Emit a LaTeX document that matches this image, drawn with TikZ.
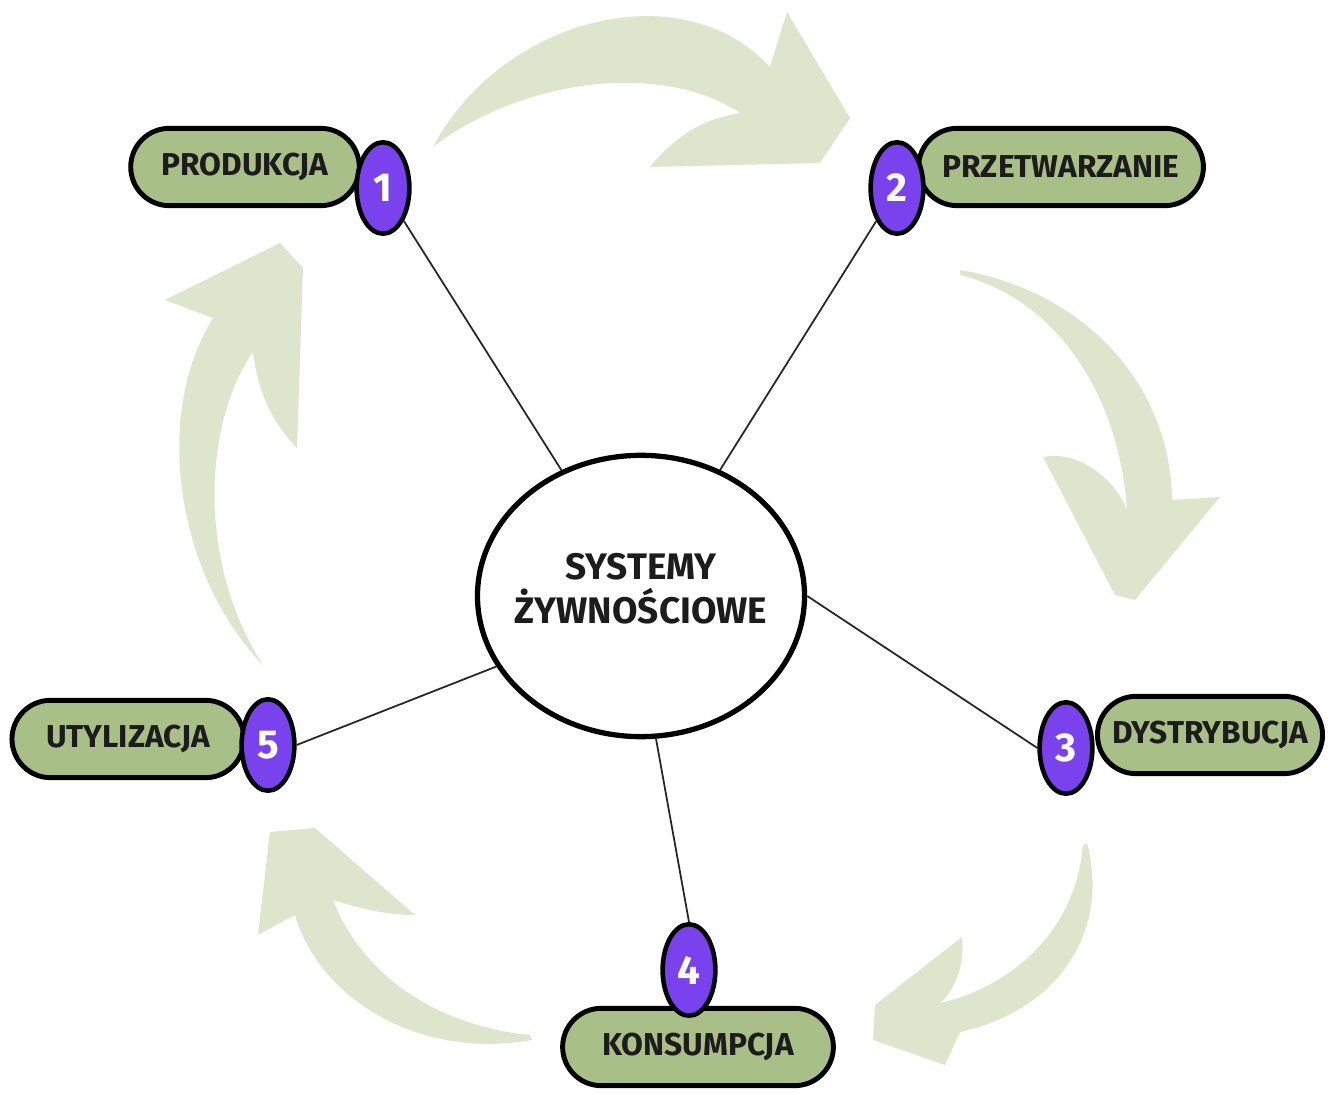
\documentclass[tikz,border=0pt]{standalone}
\usepackage{fontspec}
\setmainfont{Fira Sans}
\usepackage{xcolor}
\usepackage{tikz}
\usetikzlibrary{shapes.geometric,positioning}

\definecolor{zielen}{RGB}{168,192,136}
\definecolor{jasnazielen}{RGB}{221,229,205}
\definecolor{fiolet}{RGB}{122,66,236}
\definecolor{tekst}{RGB}{28,28,28}

\begin{document}
\begin{tikzpicture}[
	x=0.01cm, y=-0.01cm,
	font=\fontsize{9}{11}\selectfont\bfseries,
	etap/.style={rectangle, rounded corners=11pt, draw=black, fill=zielen, line width=1.4pt, minimum height=22pt, inner sep=0pt, text=tekst, align=center},
	nr/.style={ellipse, draw=black, fill=fiolet, line width=1.3pt, minimum width=15pt, minimum height=26pt, inner sep=0pt, text=white, font=\fontsize{11.5}{12}\selectfont\bfseries},
	srodek/.style={ellipse, draw=black, fill=white, line width=1.5pt, minimum width=93pt, minimum height=80pt, inner sep=0pt},
	napis/.style={align=center, text=tekst, font=\fontsize{10.5}{12.5}\selectfont\bfseries, yshift=2pt},
	linia/.style={black!85, line width=0.5pt},
	strzalka/.style={fill=jasnazielen},
]
\useasboundingbox (0,0) rectangle (1333,1095);
\fill[white] (0,0) rectangle (1333,1095);
% Strzalki w tle
\fill[strzalka] (433,147) .. controls (500,20) and (680,-30) .. (770,67) -- (787,12) -- (850,118) -- (820,163) -- (650,167) .. controls (680,130) and (710,118) .. (740,113) .. controls (660,60) and (520,80) .. (433,147) -- cycle;
\fill[strzalka] (960,270) .. controls (1080,290) and (1170,380) .. (1172,500) -- (1220,497) -- (1135,600) -- (1115,595) -- (1043,457) .. controls (1080,450) and (1115,480) .. (1127,510) .. controls (1120,400) and (1060,300) .. (960,275) -- cycle;
\fill[strzalka] (1087,843) .. controls (1110,930) and (1060,1010) .. (960,1032) -- (945,1065) -- (873,1040) -- (875,1005) -- (962,937) .. controls (965,965) and (955,990) .. (940,1003) .. controls (1000,990) and (1075,940) .. (1083,845) -- cycle;
\fill[strzalka] (532,1040) .. controls (420,1060) and (320,1000) .. (295,915) -- (258,935) -- (270,832) -- (315,828) -- (415,915) .. controls (380,915) and (350,905) .. (333,900) .. controls (360,970) and (430,1025) .. (530,1035) -- cycle;
\fill[strzalka] (263,665) .. controls (180,580) and (150,420) .. (213,318) -- (165,300) -- (280,243) -- (303,268) -- (297,448) .. controls (270,420) and (258,390) .. (253,352) .. controls (205,420) and (195,560) .. (263,665) -- cycle;
% Srodek
\node[srodek, label={[napis]center:SYSTEMY\\ŻYWNOŚCIOWE}] (sys) at (641,596) {};
% Etapy
\node[etap, minimum width=65pt] (p1) at (245,167) {PRODUKCJA};
\node[etap, minimum width=81pt] (p2) at (1061,167) {PRZETWARZANIE};
\node[etap, minimum width=64pt] (p3) at (1210,735) {DYSTRYBUCJA};
\node[etap, minimum width=77pt] (p4) at (698,1047) {KONSUMPCJA};
\node[etap, minimum width=66pt] (p5) at (128,739) {UTYLIZACJA};
% Numery
\node[nr] (b1) at (383,188) {1};
\node[nr] (b2) at (897,188) {2};
\node[nr] (b3) at (1066,748) {3};
\node[nr] (b4) at (689,970) {4};
\node[nr] (b5) at (268,745) {5};
% Polaczenia
\draw[linia] (b1) -- (sys);
\draw[linia] (b2) -- (sys);
\draw[linia] (b3.west) -- (sys.east);
\draw[linia] (b4.north) -- (sys.-84);
\draw[linia] (b5.east) -- (sys.206);
\end{tikzpicture}
\end{document}
